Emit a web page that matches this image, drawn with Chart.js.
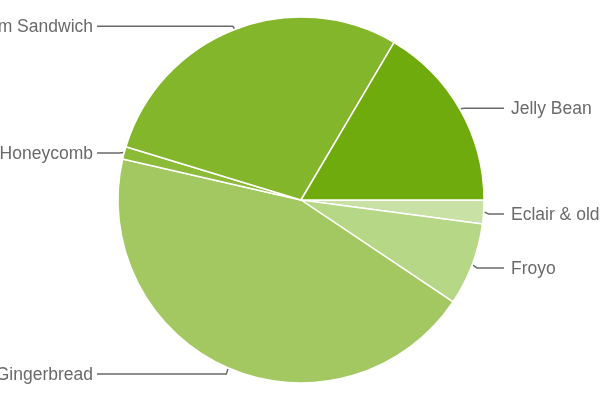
<!DOCTYPE html>
<html>
<head>
<meta charset="utf-8">
<script src="https://cdn.jsdelivr.net/npm/chart.js@4"></script>
<style>
  html, body { margin: 0; padding: 0; background: #fff; }
  #wrap { width: 600px; height: 400px; }
</style>
</head>
<body>
<div id="wrap"><canvas id="pie"></canvas></div>
<script>
// ── Data (clockwise from 3 o'clock) ──
const labels = ['Eclair & older', 'Froyo', 'Gingerbread', 'Honeycomb', 'Ice Cream Sandwich', 'Jelly Bean'];
const shares = [2.1, 7.3, 44.2, 1.1, 28.8, 16.5];
const colors = ['#c9e1a5', '#b6d785', '#a3c862', '#8cbb38', '#83b62a', '#6fab0c'];

// ── Leader-line labels ──
const leaderLabels = {
  id: 'leaderLabels',
  afterDatasetsDraw(chart) {
    const ctx = chart.ctx;
    const meta = chart.getDatasetMeta(0);
    ctx.save();
    ctx.strokeStyle = '#6a6a6a';
    ctx.lineWidth = 1.5;
    ctx.fillStyle = '#6a6a6a';
    ctx.font = '17.5px "Liberation Sans", Arial, sans-serif';
    ctx.textBaseline = 'middle';
    meta.data.forEach((arc, i) => {
      const p = arc.getProps(['x', 'y', 'startAngle', 'endAngle', 'outerRadius'], true);
      const mid = (p.startAngle + p.endAngle) / 2;
      const r = p.outerRadius;
      const x0 = p.x + Math.cos(mid) * (r + 1), y0 = p.y + Math.sin(mid) * (r + 1);
      const x1 = p.x + Math.cos(mid) * (r + 5), y1 = p.y + Math.sin(mid) * (r + 5) + 1.5;
      const right = Math.cos(mid) >= 0;
      const x2 = right ? p.x + r + 20 : p.x - r - 21;
      ctx.beginPath();
      ctx.moveTo(x0, y0);
      ctx.lineTo(x1, y1);
      ctx.lineTo(x2, y1);
      ctx.stroke();
      ctx.textAlign = right ? 'left' : 'right';
      ctx.fillText(chart.data.labels[i], right ? x2 + 7 : x2 - 4, y1 + 1);
    });
    ctx.restore();
  }
};

new Chart(document.getElementById('pie'), {
  type: 'pie',
  data: {
    labels,
    datasets: [{
      data: shares,
      backgroundColor: colors,
      borderColor: '#fff',
      borderWidth: 1.5,
      hoverOffset: 0
    }]
  },
  options: {
    responsive: true,
    maintainAspectRatio: false,
    animation: false,
    rotation: 90,
    radius: 183,
    layout: { padding: { left: 2 } },
    plugins: { legend: { display: false }, tooltip: { enabled: false } }
  },
  plugins: [leaderLabels]
});
</script>
</body>
</html>
